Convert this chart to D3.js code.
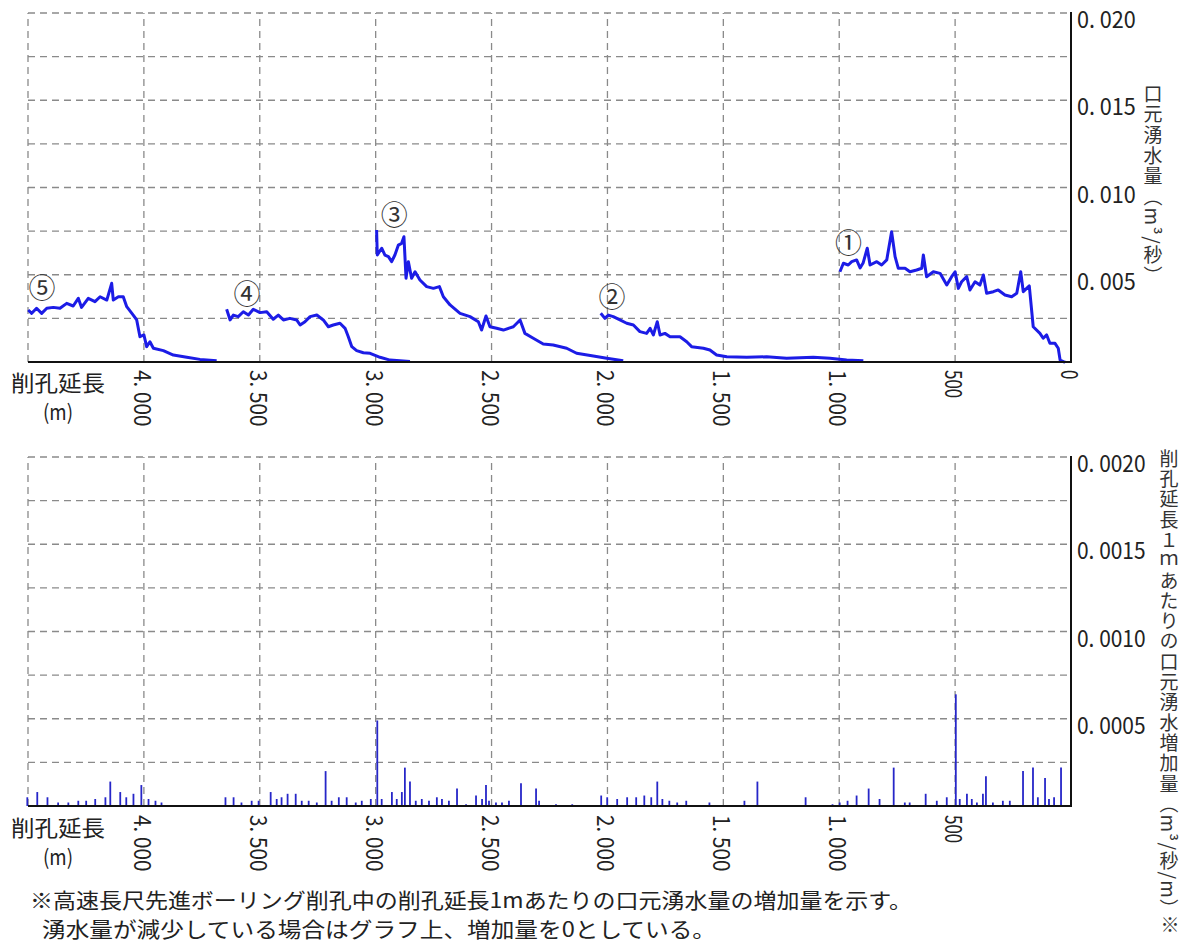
<!DOCTYPE html>
<html><head><meta charset="utf-8">
<script src="https://cdn.jsdelivr.net/npm/d3@7"></script>
<style>
html,body{margin:0;padding:0;background:#fff;}
svg{display:block;}
text{font-family:"Noto Sans CJK JP","Noto Sans",sans-serif;fill:#222;}
</style></head>
<body><svg id="chart" width="1190" height="942"></svg>
<script>
// ---------- data ----------
const xTickValues = [4000, 3500, 3000, 2500, 2000, 1500, 1000, 500, 0];
const xTickLabels = ["4. 000", "3. 500", "3. 000", "2. 500", "2. 000", "1. 500", "1. 000", "500", "0"];
const xTickValuesBottom = [4000, 3500, 3000, 2500, 2000, 1500, 1000, 500];
const xTickLabelsBottom = ["4. 000", "3. 500", "3. 000", "2. 500", "2. 000", "1. 500", "1. 000", "500"];
const yTopTicks = [0.020, 0.015, 0.010, 0.005];
const yTopTickLabels = ["0. 020", "0. 015", "0. 010", "0. 005"];
const yBotTicks = [0.0020, 0.0015, 0.0010, 0.0005];
const yBotTickLabels = ["0. 0020", "0. 0015", "0. 0010", "0. 0005"];

const s1Dist = [997,982,961,946,925,910,897,879,867,838,817,795,774,759,745,716,695,666,644,637,623,594,565,536,515,500,486,472,450,436,414,393,378,364,335,314,285,256,234,217,206,180,163,134,120,105,91,69,55,47,33,25];
const s1Val  = [0.00517,0.00566,0.00556,0.00575,0.00585,0.00539,0.00567,0.00652,0.00556,0.00575,0.00556,0.00585,0.00747,0.00604,0.00537,0.00537,0.00517,0.00527,0.00537,0.00613,0.00489,0.00517,0.00508,0.00441,0.00489,0.00517,0.00422,0.0046,0.00489,0.00413,0.0046,0.00441,0.00499,0.00394,0.00403,0.00413,0.00384,0.00374,0.00394,0.00517,0.00403,0.00436,0.00202,0.00164,0.00136,0.00155,0.00107,0.00107,0.00079,0.00011,0.00002,0.0];

const s2Dist = [2029,2011,1996,1975,1946,1917,1888,1860,1831,1816,1802,1785,1773,1752,1730,1687,1658,1637,1586,1558,1529,1485,1399,1313,1227,1112,1040,968,896];
const s2Val  = [0.00279,0.0025,0.00269,0.0026,0.00241,0.00222,0.00212,0.00174,0.00164,0.00193,0.00155,0.00231,0.00155,0.00164,0.00145,0.00145,0.00116,0.00088,0.00079,0.00069,0.0004,0.0003,0.00027,0.0003,0.00021,0.00027,0.00021,0.00011,0.00007];

const s3Dist = [2996,2993,2974,2960,2945,2931,2917,2902,2888,2878,2869,2859,2845,2830,2809,2780,2751,2725,2708,2679,2636,2593,2557,2543,2524,2507,2478,2449,2406,2377,2356,2320,2277,2234,2176,2133,2061,2003,1932];
const s3Val  = [0.00756,0.00613,0.00652,0.00613,0.00604,0.00575,0.00613,0.0067,0.0068,0.00718,0.0048,0.00575,0.0048,0.00517,0.0047,0.00432,0.00422,0.00432,0.00374,0.00327,0.00279,0.0026,0.00231,0.00183,0.00264,0.00202,0.00193,0.00183,0.00202,0.00241,0.00164,0.00136,0.00103,0.00097,0.00079,0.0005,0.00034,0.00021,0.00007];

const s4Dist = [3643,3628,3614,3593,3571,3549,3528,3499,3470,3442,3420,3398,3370,3341,3326,3305,3283,3254,3226,3204,3183,3154,3132,3118,3103,3082,3053,3024,2981,2938,2852];
const s4Val  = [0.00302,0.00241,0.00269,0.0026,0.00288,0.00269,0.00302,0.00283,0.00288,0.00245,0.00269,0.00241,0.0025,0.00241,0.00212,0.00231,0.0026,0.00269,0.00241,0.00202,0.00212,0.00222,0.00193,0.00145,0.00088,0.00065,0.00053,0.0005,0.00027,0.00011,0.00003];

const s5Dist = [4499,4484,4463,4441,4419,4391,4362,4333,4305,4283,4269,4240,4211,4189,4160,4139,4132,4110,4089,4074,4046,4031,4017,4000,3988,3974,3959,3916,3873,3815,3758,3686];
const s5Val  = [0.00298,0.00279,0.00308,0.00279,0.00308,0.00313,0.00308,0.00336,0.00321,0.00365,0.00313,0.00365,0.00346,0.00374,0.00355,0.00451,0.00355,0.00374,0.00374,0.00317,0.00269,0.00241,0.00145,0.00155,0.00088,0.00116,0.00079,0.00065,0.0004,0.00027,0.00015,0.00007];

const seriesLabels = ["①","②","③","④","⑤"];
const seriesLabelDist = [960, 1980, 2920, 3555, 4440];
const seriesLabelVal  = [0.0069, 0.0038, 0.0085, 0.0040, 0.0043];

const barDist = [4503,4460,4416,4370,4326,4283,4249,4210,4166,4145,4102,4076,4045,4011,3980,3950,3924,3648,3613,3579,3535,3505,3453,3427,3406,3380,3345,3319,3289,3254,3216,3190,3159,3125,3086,3060,3021,2993,
 2974,2930,2909,2887,2874,2852,2827,2801,2770,2736,2714,2684,2649,2610,2567,2541,2524,2511,2481,2455,2425,2373,2308,2295,2222,2152,2027,2001,1958,1915,1876,1841,1811,1785,1763,1733,1699,1660,1560,
 1409,1353,1145,1029,998,964,925,873,826,765,717,696,627,579,536,497,480,449,428,406,380,367,337,294,264,207,164,143,112,95,73,43];
const barVal = [0.00005,0.00008,0.00005,0.00002,0.00002,0.00003,0.00003,0.00004,0.00005,0.00014,0.00008,0.00005,0.00007,0.00012,0.00004,0.00003,0.00002,0.00005,0.00005,0.00002,0.00003,0.00003,0.00008,0.00004,0.00005,0.00007,0.00007,0.00003,0.00003,0.00002,0.00020,0.00003,0.00005,0.00005,0.00002,0.00003,0.00004,0.00049,
 0.00004,0.00008,0.00004,0.00008,0.00022,0.00014,0.00003,0.00004,0.00003,0.00005,0.00004,0.00003,0.00010,0.00001,0.00006,0.00004,0.00012,0.00003,0.00002,0.00002,0.00003,0.00013,0.00010,0.00003,0.00001,0.00001,0.00006,0.00005,0.00004,0.00005,0.00005,0.00006,0.00005,0.00014,0.00004,0.00003,0.00002,0.00003,0.00002,
 0.00003,0.00014,0.00005,0.00001,0.00002,0.00003,0.00006,0.00010,0.00004,0.00022,0.00002,0.00002,0.00007,0.00003,0.00005,0.00064,0.00004,0.00007,0.00004,0.00002,0.00007,0.00017,0.00002,0.00003,0.00003,0.00020,0.00022,0.00005,0.00016,0.00004,0.00005,0.00022];

const topAxisTitle = "口元湧水量（m³/秒）";
const botAxisTitle = "削孔延長１ｍあたりの口元湧水増加量（m³/秒/m）";
const xAxisTitle = "削孔延長";
const xAxisUnit = "(m)";
const noteLines = ["※高速長尺先進ボーリング削孔中の削孔延長1mあたりの口元湧水量の増加量を示す。",
                   "湧水量が減少している場合はグラフ上、増加量を0としている。"];
const noteMark = "※";

// ---------- layout ----------
const svg = d3.select("#chart");
const LEFT = 28, RIGHT = 1071;
const x = d3.scaleLinear().domain([4500, 0]).range([LEFT, RIGHT]);
const yTop = d3.scaleLinear().domain([0, 0.020]).range([362, 13]);
const yBot = d3.scaleLinear().domain([0, 0.0020]).range([806, 457]);
const LINE = "#1c1ce6", BAR = "#2626c8", GRID = "#8a8a8a";

function grid(y, step, max) {
  const g = svg.append("g");
  const hv = d3.range(step, max + step / 2, step);
  g.selectAll("line.h").data(hv).join("line")
    .attr("x1", LEFT).attr("x2", RIGHT).attr("y1", d => y(d)).attr("y2", d => y(d))
    .attr("stroke", GRID).attr("stroke-width", 1.3).attr("stroke-dasharray", "7,5");
  const vv = d3.range(4500, 0, -500);
  g.selectAll("line.v").data(vv).join("line")
    .attr("x1", d => x(d)).attr("x2", d => x(d)).attr("y1", y(0)).attr("y2", y(max))
    .attr("stroke", GRID).attr("stroke-width", 1.3).attr("stroke-dasharray", "7,5");
}
grid(yTop, 0.0025, 0.020);
grid(yBot, 0.00025, 0.0020);

// ---------- top lines ----------
const line = d3.line().x(d => x(d[0])).y(d => yTop(d[1]));
const allSeries = [[s1Dist, s1Val], [s2Dist, s2Val], [s3Dist, s3Val], [s4Dist, s4Val], [s5Dist, s5Val]];
allSeries.forEach(([ds, vs]) => {
  svg.append("path").datum(ds.map((d, i) => [d, vs[i]]))
    .attr("d", line).attr("fill", "none").attr("stroke", LINE)
    .attr("stroke-width", 3).attr("stroke-linejoin", "round");
});
svg.selectAll("text.slab").data(seriesLabels).join("text")
  .attr("x", (d, i) => x(seriesLabelDist[i])).attr("y", (d, i) => yTop(seriesLabelVal[i]))
  .attr("text-anchor", "middle").attr("dominant-baseline", "central")
  .attr("font-size", 27).style("fill", "#333").text(d => d);

// ---------- bottom bars ----------
svg.append("g").selectAll("line").data(barDist).join("line")
  .attr("x1", d => x(d)).attr("x2", d => x(d))
  .attr("y1", yBot(0)).attr("y2", (d, i) => yBot(barVal[i]))
  .attr("stroke", BAR).attr("stroke-width", 1.8);

// ---------- axes frames ----------
function frame(y, max) {
  svg.append("line").attr("x1", LEFT).attr("x2", RIGHT + 1).attr("y1", y(0)).attr("y2", y(0))
    .attr("stroke", "#111").attr("stroke-width", 2);
  svg.append("line").attr("x1", RIGHT).attr("x2", RIGHT).attr("y1", y(0) + 1).attr("y2", y(max) - 1)
    .attr("stroke", "#111").attr("stroke-width", 2);
}
frame(yTop, 0.020);
frame(yBot, 0.0020);

// ---------- tick labels ----------
function yLabels(y, vals, labs) {
  svg.selectAll(null).data(vals).join("text")
    .attr("x", RIGHT + 6).attr("y", d => y(d) + 5)
    .attr("dominant-baseline", "central").attr("font-size", 23)
    .attr("textLength", (d, i) => labs[i].length * 9.8).attr("lengthAdjust", "spacingAndGlyphs")
    .text((d, i) => labs[i]);
}
yLabels(yTop, yTopTicks, yTopTickLabels);
yLabels(yBot, yBotTicks, yBotTickLabels);

function xLabels(vals, labs, top) {
  svg.selectAll(null).data(vals).join("text")
    .attr("transform", d => `translate(${x(d)},${top}) rotate(90)`)
    .attr("dominant-baseline", "central").attr("font-size", 23)
    .attr("textLength", (d, i) => labs[i].length * 9.4).attr("lengthAdjust", "spacingAndGlyphs")
    .text((d, i) => labs[i]);
}
xLabels(xTickValues, xTickLabels, 370);
xLabels(xTickValuesBottom, xTickLabelsBottom, 815);

function xTitle(yb) {
  svg.append("text").attr("x", 11).attr("y", yb).attr("font-size", 22)
    .attr("textLength", 94).attr("lengthAdjust", "spacingAndGlyphs").text(xAxisTitle);
  svg.append("text").attr("x", 58).attr("y", yb + 29).attr("font-size", 21)
    .attr("text-anchor", "middle").attr("textLength", 30).attr("lengthAdjust", "spacingAndGlyphs")
    .text(xAxisUnit);
}
xTitle(391);
xTitle(836);

// ---------- vertical axis titles ----------
svg.append("text").attr("x", 1153).attr("y", 84)
  .style("writing-mode", "vertical-rl").attr("font-size", 19).style("letter-spacing", "1.6px")
  .style("fill", "#333").text(topAxisTitle);
svg.append("text").attr("x", 1169).attr("y", 449)
  .style("writing-mode", "vertical-rl").attr("font-size", 19).style("letter-spacing", "1.3px")
  .style("fill", "#333").text(botAxisTitle);
svg.append("text").attr("x", 1170).attr("y", 932).attr("text-anchor", "middle")
  .attr("font-size", 19).style("fill", "#333").text(noteMark);

// ---------- footnote ----------
svg.append("text").attr("x", 30).attr("y", 908).attr("font-size", 21)
  .attr("textLength", 882).attr("lengthAdjust", "spacingAndGlyphs").text(noteLines[0]);
svg.append("text").attr("x", 42).attr("y", 937).attr("font-size", 21)
  .attr("textLength", 674).attr("lengthAdjust", "spacingAndGlyphs").text(noteLines[1]);
</script></body></html>
